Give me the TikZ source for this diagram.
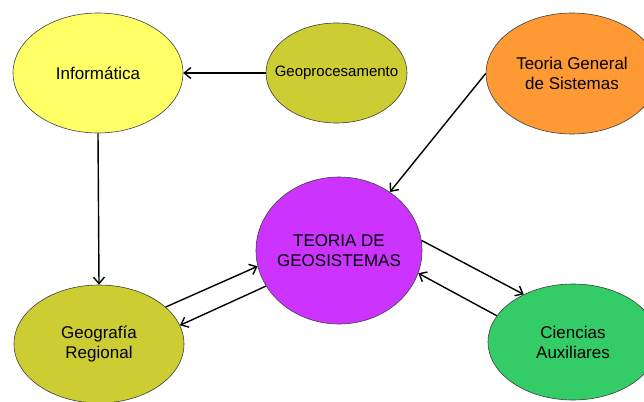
\documentclass[tikz,border=0pt]{standalone}
\usepackage{fontspec}
\setmainfont{Liberation Sans}
\usetikzlibrary{shapes.geometric,arrows.meta}
\definecolor{cinf}{HTML}{FFFF66}
\definecolor{colive}{HTML}{CCCC33}
\definecolor{corange}{HTML}{FF9933}
\definecolor{cmag}{HTML}{CC33FF}
\definecolor{cgreen}{HTML}{33CC66}
\tikzset{
  bubble/.style={ellipse, draw=black!75, line width=0.6pt, inner sep=-15pt, align=center,
    font=\fontsize{17}{20}\selectfont},
  link/.style={line width=1.4pt, -{Straight Barb[length=6.5pt,width=11pt,line width=1.4pt]}}
}
\begin{document}
\begin{tikzpicture}[x=1pt,y=-1pt]
\useasboundingbox (0,0) rectangle (644,401);
\clip (0,0) rectangle (644,401);
\fill[white] (0,0) rectangle (644,401);
\node[bubble, fill=cinf, minimum width=170pt, minimum height=120pt] (inf) at (98,73) {Informática};
\node[bubble, fill=colive, minimum width=141pt, minimum height=100pt, font=\fontsize{15}{18}\selectfont] (geop) at (336.5,73) {Geoprocesamento};
\node[bubble, fill=corange, minimum width=172pt, minimum height=121pt] (tgs) at (572,73.5) {Teoria General\\de Sistemas};
\node[bubble, fill=cmag, minimum width=166pt, minimum height=147pt] (teo) at (339,250.5) {TEORIA DE\\GEOSISTEMAS};
\node[bubble, fill=colive, minimum width=170pt, minimum height=118pt] (geo) at (99,344) {Geografía\\Regional};
\node[bubble, fill=cgreen, minimum width=170pt, minimum height=116pt] (cie) at (573,342) {Ciencias\\Auxiliares};
\draw[link] (geop.west) -- (inf.east);
\draw[link] (inf.south) -- (geo.north);
\draw[link] (tgs.180.5) -- (teo.49);
\draw[link] (geo.29) -- (teo.191);
\draw[link] (teo.206) -- (geo.13);
\draw[link] (teo.7) -- (cie.136);
\draw[link] (cie.161) -- (teo.344.5);
\end{tikzpicture}
\end{document}
